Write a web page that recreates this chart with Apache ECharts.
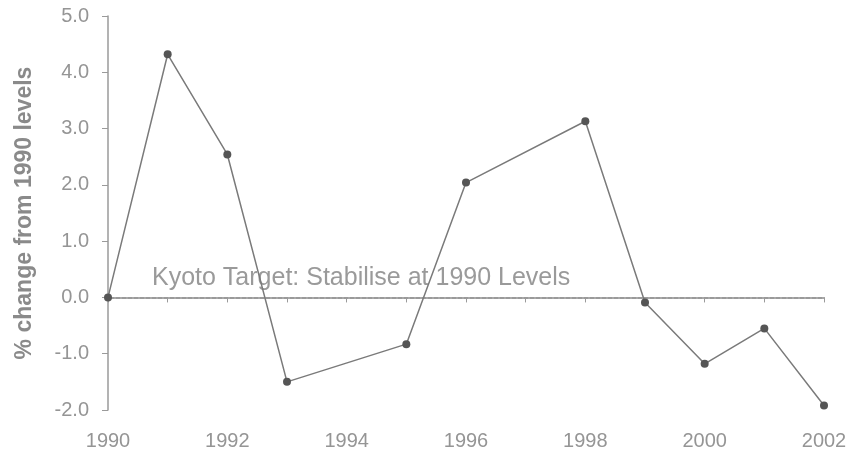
<!DOCTYPE html>
<html>
<head>
<meta charset="utf-8">
<script src="https://cdn.jsdelivr.net/npm/echarts@6/dist/echarts.min.js"></script>
<style>
  html, body { margin: 0; padding: 0; background: #fff; }
  #chart { width: 867px; height: 457px; }
</style>
</head>
<body>
<div id="chart"></div>
<script>
// Data
var years = [1990, 1991, 1992, 1993, 1995, 1996, 1998, 1999, 2000, 2001, 2002];
var changePct = [0.0, 4.32, 2.54, -1.50, -0.83, 2.04, 3.13, -0.09, -1.18, -0.55, -1.92];
var targetValue = 0;
var targetLabel = 'Kyoto Target: Stabilise at 1990 Levels';
var yAxisTitle = '% change from 1990 levels';

var points = years.map(function (y, i) { return [y, changePct[i]]; });

var FONT = "'Liberation Sans', Arial, sans-serif";
var chart = echarts.init(document.getElementById('chart'), null, { renderer: 'canvas' });

chart.setOption({
  animation: false,
  backgroundColor: '#ffffff',
  grid: { left: 108, right: 43, top: 16, bottom: 47, containLabel: false },
  xAxis: {
    type: 'value',
    min: 1990,
    max: 2002,
    interval: 1,
    splitLine: { show: false },
    axisLine: { lineStyle: { color: '#9a9a9a', width: 2 } },
    axisTick: { show: true, inside: false, length: 5, lineStyle: { color: '#9a9a9a', width: 1 } },
    axisLabel: {
      color: '#959595',
      fontFamily: FONT,
      fontSize: 20,
      margin: 21,
      formatter: function (v) { return (v % 2 === 0) ? String(v) : ''; }
    }
  },
  yAxis: {
    type: 'value',
    min: -2,
    max: 5,
    interval: 1,
    splitLine: { show: false },
    axisLine: { show: true, lineStyle: { color: '#9a9a9a', width: 1.5 } },
    axisTick: { show: true, inside: false, length: 6, lineStyle: { color: '#9a9a9a', width: 1 } },
    axisLabel: {
      color: '#959595',
      fontFamily: FONT,
      fontSize: 20,
      margin: 19,
      formatter: function (v) { return v.toFixed(1); }
    },
    name: yAxisTitle,
    nameLocation: 'middle',
    nameRotate: 90,
    nameGap: 72,
    nameTextStyle: {
      color: '#8a8a8a',
      fontFamily: FONT,
      fontSize: 23,
      fontWeight: 'bold'
    }
  },
  series: [{
    type: 'line',
    data: points,
    symbol: 'circle',
    symbolSize: 8,
    lineStyle: { color: '#7a7a7a', width: 1.5 },
    itemStyle: { color: '#555555' },
    z: 3,
    markLine: {
      silent: true,
      symbol: ['none', 'none'],
      lineStyle: { type: [2, 4], color: '#a8a8a8', width: 2 },
      data: [{ yAxis: targetValue }],
      label: {
        show: true,
        position: 'insideStartTop',
        distance: [44, 7],
        formatter: targetLabel,
        color: '#9a9a9a',
        fontFamily: FONT,
        fontSize: 25
      },
      z: 1
    }
  }]
});
</script>
</body>
</html>
